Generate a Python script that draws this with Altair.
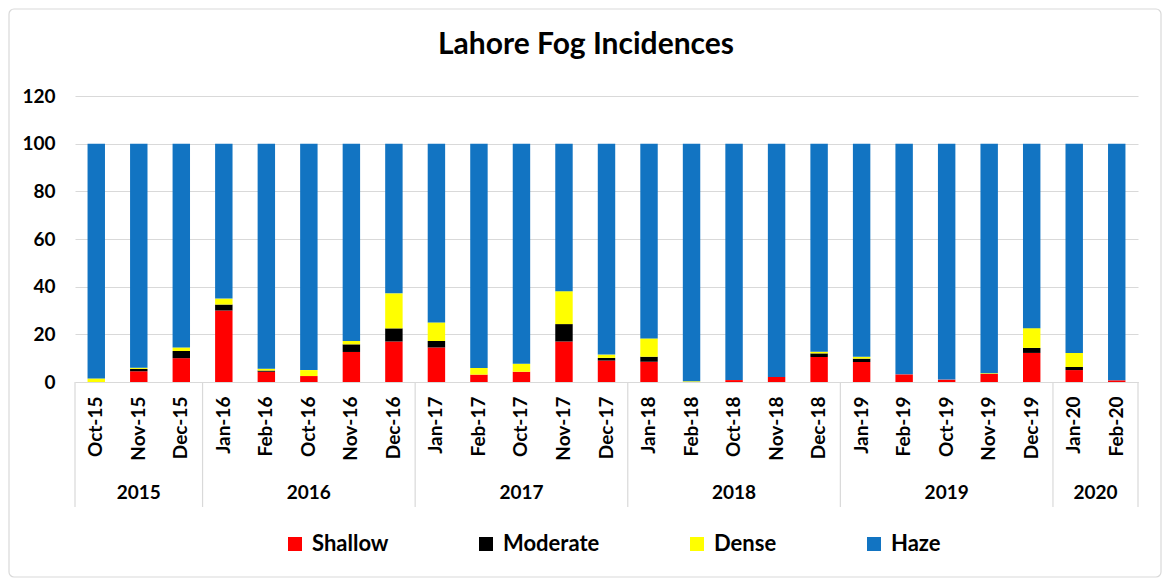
import altair as alt
import pandas as pd

months = ["Oct-15", "Nov-15", "Dec-15", "Jan-16", "Feb-16", "Oct-16", "Nov-16", "Dec-16",
          "Jan-17", "Feb-17", "Oct-17", "Nov-17", "Dec-17", "Jan-18", "Feb-18", "Oct-18",
          "Nov-18", "Dec-18", "Jan-19", "Feb-19", "Oct-19", "Nov-19", "Dec-19", "Jan-20", "Feb-20"]
shallow = [0, 4.5, 10, 30, 4.3, 2.5, 12.6, 17, 14.5, 3.1, 4.3, 17, 9, 8.5, 0, 0.8, 2.1, 10.5,
           8.4, 3.2, 1.0, 3.4, 12.2, 5, 0.7]
moderate = [0, 1, 3, 2.5, 0.5, 0, 3.2, 5.5, 2.7, 0, 0, 7.3, 1.1, 2.1, 0, 0, 0, 1.5,
            1.4, 0, 0, 0, 2.1, 1.3, 0]
dense = [1.5, 0.5, 1.5, 2.5, 0.8, 2.5, 1.4, 14.7, 7.8, 2.8, 3.4, 13.8, 1.4, 7.7, 0.3, 0, 0, 0.7,
         0.8, 0, 0, 0.3, 8.3, 5.9, 0]
haze = [98.5, 94, 85.5, 65, 94.4, 95, 82.8, 62.8, 75, 94.1, 92.3, 61.9, 88.5, 81.7, 99.7, 99.2,
        97.9, 87.3, 89.4, 96.8, 99, 96.3, 77.4, 87.8, 99.3]

series = ["Shallow", "Moderate", "Dense", "Haze"]
colors = ["#FF0000", "#000000", "#FFFF00", "#1274C2"]

years = ["2015", "2016", "2017", "2018", "2019", "2020"]
year_counts = [3, 5, 5, 5, 5, 2]

title_text = "Lahore Fog Incidences"

FONT = "Lato"
W, H = 1063, 286
STEP = W / len(months)

rows = []
for i, m in enumerate(months):
    for k, (name, vals) in enumerate(zip(series, [shallow, moderate, dense, haze])):
        rows.append({"month": m, "series": name, "value": vals[i], "order": k})
df = pd.DataFrame(rows)

xscale = alt.Scale(domain=months, paddingInner=0.59, paddingOuter=0.295)

starts = []
idx = 0
for c in year_counts:
    starts.append(months[idx])
    idx += c
sep_df = pd.DataFrame({"month": starts})
sep_end_df = pd.DataFrame({"month": [months[-1]]})

border = alt.Chart(pd.DataFrame({"a": [0]})).mark_rect(
    fill="white", fillOpacity=0, stroke="#D9D9D9", strokeWidth=1.2, cornerRadius=5
).encode(x=alt.value(-66), x2=alt.value(1086), y=alt.value(-87), y2=alt.value(481))

title = alt.Chart(pd.DataFrame({"t": [title_text]})).mark_text(
    fontSize=30, font=FONT, fontWeight="bold", color="black", align="center",
    baseline="alphabetic"
).encode(x=alt.value(511), y=alt.value(-42), text="t:N")

bars = alt.Chart(df).mark_bar().encode(
    x=alt.X("month:N", scale=xscale, title=None,
            axis=alt.Axis(labelAngle=-90, labelFontSize=19, labelFont=FONT, labelFontWeight="bold",
                          labelColor="black", labelPadding=14, ticks=False,
                          domainColor="#D9D9D9", domainWidth=1.2)),
    y=alt.Y("value:Q", stack="zero", title=None,
            scale=alt.Scale(domain=[0, 120], nice=False),
            axis=alt.Axis(values=[0, 20, 40, 60, 80, 100, 120], labelFontSize=19, labelFont=FONT,
                          labelFontWeight="bold", labelColor="black", labelPadding=20,
                          ticks=False, domain=False, gridColor="#D9D9D9", gridWidth=1.2)),
    color=alt.Color("series:N", scale=alt.Scale(domain=series, range=colors), title=None,
                    legend=alt.Legend(orient="none", direction="horizontal", legendX=209,
                                      legendY=437, symbolType="square", symbolSize=196,
                                      symbolStrokeWidth=0, labelFontSize=22, labelFont=FONT,
                                      labelFontWeight="bold", labelColor="black",
                                      labelOffset=6, columnPadding=86, padding=0)),
    order=alt.Order("order:Q", sort="ascending"),
)

seps = alt.Chart(sep_df).mark_rule(color="#D9D9D9", strokeWidth=1.2, xOffset=-STEP / 2).encode(
    x=alt.X("month:N", scale=xscale), y=alt.value(H), y2=alt.value(H + 125))
sep_end = alt.Chart(sep_end_df).mark_rule(color="#D9D9D9", strokeWidth=1.2, xOffset=STEP / 2).encode(
    x=alt.X("month:N", scale=xscale), y=alt.value(H), y2=alt.value(H + 125))

year_layers = []
idx = 0
for yname, c in zip(years, year_counts):
    anchor = months[idx + (c - 1) // 2]
    off = STEP / 2 if c % 2 == 0 else 0
    idx += c
    year_layers.append(
        alt.Chart(pd.DataFrame({"month": [anchor], "year": [yname]})).mark_text(
            fontSize=19, font=FONT, fontWeight="bold", color="black", baseline="middle",
            dx=off
        ).encode(x=alt.X("month:N", scale=xscale), y=alt.value(H + 111), text="year:N")
    )

chart = alt.layer(border, title, bars, seps, sep_end, *year_layers).properties(
    width=W, height=H,
    autosize=alt.AutoSizeParams(type="none"),
    padding={"left": 67, "top": 88, "right": 24, "bottom": 196},
).configure_view(stroke=None)

chart.save("out.html", embed_options={"renderer": "svg", "actions": False})
